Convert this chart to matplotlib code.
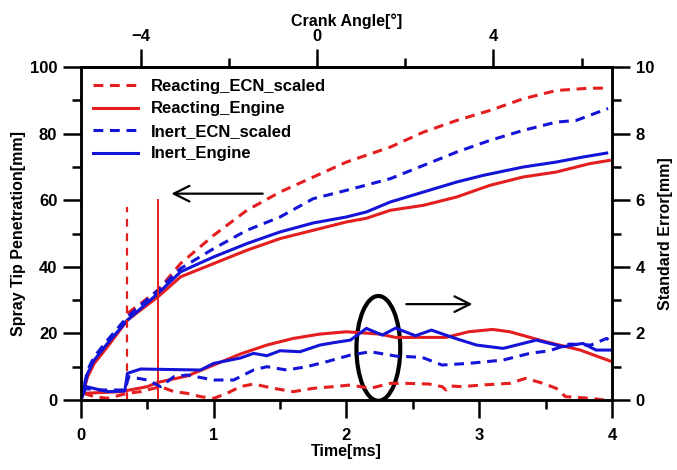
import matplotlib
matplotlib.use("Agg")
import matplotlib.pyplot as plt
from matplotlib.patches import Ellipse

plt.rcParams["font.family"] = ["Liberation Sans", "DejaVu Sans"]
plt.rcParams["font.weight"] = "bold"

RED, BLUE = "#e41e1e", "#1414d8"

# penetration curves (left axis, mm)
t_recn = [0.35, 0.45, 0.58, 0.75, 1.0, 1.25, 1.5, 1.75, 2.0, 2.33, 2.58, 2.83, 3.08, 3.33, 3.58, 3.83, 3.96]
p_recn = [26, 29, 33, 41, 49.5, 57, 62.5, 67, 71.5, 76, 80.5, 84, 87, 90.5, 93, 93.7, 93.7]
t_reng = [0, 0.05, 0.1, 0.2, 0.35, 0.58, 0.75, 1.0, 1.25, 1.5, 1.75, 2.0, 2.15, 2.33, 2.58, 2.83,
          3.08, 3.33, 3.58, 3.83, 3.98]
p_reng = [0, 7, 11, 16, 24, 31, 37, 41, 45, 48.5, 51, 53.5, 54.6, 57, 58.5, 61,
          64.5, 67, 68.5, 71, 72]
t_iecn = [0, 0.05, 0.1, 0.2, 0.35, 0.58, 0.75, 1.0, 1.25, 1.5, 1.75, 2.0, 2.33, 2.58, 2.83, 3.08,
          3.33, 3.58, 3.73, 3.83, 3.97]
p_iecn = [0, 9, 13, 18, 25, 33, 39.5, 45.5, 51, 55, 60.5, 63, 66.5, 70.5, 74.5, 78,
          81, 83.5, 84, 85.5, 87.6]
t_ieng = [0, 0.05, 0.1, 0.2, 0.35, 0.58, 0.75, 1.0, 1.25, 1.5, 1.75, 2.0, 2.15, 2.33, 2.58, 2.83,
          3.03, 3.33, 3.58, 3.78, 3.96]
p_ieng = [0, 8, 12, 17, 24, 32, 38.5, 43, 47, 50.5, 53.2, 55, 56.5, 59.5, 62.5, 65.5,
          67.5, 70, 71.5, 73, 74.2]

# standard error curves (right axis, mm)
t_recn_se = [0.02, 0.1, 0.2, 0.35, 0.45, 0.6, 0.7, 0.8, 0.9, 1.0, 1.1, 1.2, 1.3, 1.45, 1.6, 1.75, 1.9,
             2.03, 2.18, 2.33, 2.45, 2.62, 2.72, 2.75, 2.78, 2.87, 3.02, 3.23, 3.35, 3.48, 3.58, 3.65, 3.84, 3.94]
s_recn_se = [0.2, 0.1, 0.05, 0.2, 0.25, 0.4, 0.25, 0.2, 0.1, 0.05, 0.2, 0.4, 0.48, 0.35, 0.25, 0.35, 0.4,
             0.45, 0.35, 0.5, 0.5, 0.48, 0.4, 0.3, 0.42, 0.4, 0.45, 0.5, 0.65, 0.5, 0.35, 0.1, 0.05, 0.0]
t_reng_se = [0.02, 0.3, 0.5, 0.58, 0.8, 1.0, 1.2, 1.4, 1.6, 1.8, 2.0, 2.25, 2.37, 2.75, 2.92, 3.1, 3.23, 3.5, 3.76, 4.0]
s_reng_se = [0.2, 0.25, 0.4, 0.53, 0.72, 1.05, 1.38, 1.65, 1.85, 1.98, 2.05, 1.98, 1.88, 1.88, 2.05, 2.12, 2.05, 1.75, 1.5, 1.15]
t_iecn_se = [0, 0.15, 0.33, 0.36, 0.5, 0.6, 0.7, 0.8, 1.0, 1.15, 1.3, 1.4, 1.55, 1.7, 1.85, 2.03, 2.18,
             2.37, 2.57, 2.72, 2.92, 3.18, 3.38, 3.53, 3.68, 3.84, 3.96, 4.0]
s_iecn_se = [0.35, 0.3, 0.3, 0.7, 0.6, 0.4, 0.7, 0.75, 0.6, 0.6, 0.9, 1.0, 0.9, 1.0, 1.15, 1.35, 1.45,
             1.32, 1.28, 1.05, 1.1, 1.2, 1.4, 1.48, 1.68, 1.65, 1.85, 1.7]
t_ieng_se = [0, 0.04, 0.2, 0.33, 0.35, 0.45, 0.9, 1.0, 1.2, 1.3, 1.4, 1.5, 1.65, 1.8, 1.9, 2.03, 2.15,
             2.27, 2.37, 2.52, 2.64, 2.82, 2.98, 3.18, 3.43, 3.63, 3.78, 3.88, 3.99]
s_ieng_se = [0, 0.4, 0.25, 0.27, 0.8, 0.93, 0.9, 1.1, 1.26, 1.4, 1.33, 1.48, 1.45, 1.65, 1.72, 1.8, 2.15,
             1.95, 2.16, 1.93, 2.1, 1.85, 1.65, 1.55, 1.8, 1.6, 1.7, 1.5, 1.5]

# start-of-ignition markers (time ms, height mm)
soi_ecn, soi_ecn_h = 0.35, 58
soi_eng, soi_eng_h = 0.58, 60

# crank angle mapping: CA = (t - T0) / MS_PER_DEG
T0, MS_PER_DEG = 1.778, 0.3322

fig = plt.figure(figsize=(6.77, 4.70), dpi=100)
ax = fig.add_axes([0.1196, 0.149, 0.7844, 0.708])
ax2 = ax.twinx()

dash = (3.2, 2.2)
ax.plot(t_recn, p_recn, color=RED, lw=2.2, ls=(0, dash), label="Reacting_ECN_scaled")
ax.plot(t_reng, p_reng, color=RED, lw=2.2, label="Reacting_Engine")
ax.plot(t_iecn, p_iecn, color=BLUE, lw=2.2, ls=(0, dash), label="Inert_ECN_scaled")
ax.plot(t_ieng, p_ieng, color=BLUE, lw=2.2, label="Inert_Engine")
ax.plot([soi_ecn, soi_ecn], [0, soi_ecn_h], color=RED, lw=1.6, ls=(0, (3.5, 3)))
ax.plot([soi_eng, soi_eng], [0, soi_eng_h], color=RED, lw=1.4)

ax2.plot(t_recn_se, s_recn_se, color=RED, lw=2.2, ls=(0, dash))
ax2.plot(t_reng_se, s_reng_se, color=RED, lw=2.2)
ax2.plot(t_iecn_se, s_iecn_se, color=BLUE, lw=2.2, ls=(0, dash))
ax2.plot(t_ieng_se, s_ieng_se, color=BLUE, lw=2.2)

# annotations
ax.annotate("", xy=(0.66, 62), xytext=(1.39, 62),
            arrowprops=dict(arrowstyle="->", lw=1.6, color="black", mutation_scale=28))
ax2.annotate("", xy=(2.97, 2.88), xytext=(2.43, 2.88),
             arrowprops=dict(arrowstyle="->", lw=1.6, color="black", mutation_scale=28))
ax2.add_patch(Ellipse((2.24, 1.55), 0.33, 3.15, fill=False, lw=3, ec="black"))

ax.set_xlim(0, 4)
ax.set_ylim(0, 100)
ax2.set_ylim(0, 10)
ax.set_xticks([0, 1, 2, 3, 4])
ax.set_xticks([0.5, 1.5, 2.5, 3.5], minor=True)
ax.set_yticks(range(0, 101, 20))
ax.set_yticks(range(10, 100, 20), minor=True)
ax2.set_yticks(range(0, 11, 2))
ax2.set_yticks(range(1, 10, 2), minor=True)

sec = ax.secondary_xaxis("top", functions=(lambda t: (t - T0) / MS_PER_DEG,
                                           lambda c: c * MS_PER_DEG + T0))
sec.set_xticks([-4, 0, 4])
sec.set_xticks([-2, 2, 6], minor=True)
sec.set_xlabel("Crank Angle[°]", fontsize=11.5, fontweight="bold", labelpad=2)

for a in (ax, ax2):
    for s in a.spines.values():
        s.set_linewidth(1.8)
sec.spines["top"].set_linewidth(1.8)
for a in (ax, ax2, sec):
    a.tick_params(which="major", direction="out", length=13, width=1.8, labelsize=12, pad=4)
    a.tick_params(which="minor", direction="out", length=6.5, width=1.8)
ax.tick_params(axis="x", which="major", pad=7)

ax.set_xlabel("Time[ms]", fontsize=11.5, fontweight="bold", labelpad=1)
ax.set_ylabel("Spray Tip Penetration[mm]", fontsize=11.5, fontweight="bold", labelpad=3)
ax2.set_ylabel("Standard Error[mm]", fontsize=11.5, fontweight="bold", labelpad=3)

ax.legend(loc="upper left", frameon=False, fontsize=12, handlelength=2.7,
          labelspacing=0.45, borderaxespad=0.3, handletextpad=0.8)

fig.savefig("out.png", dpi=100)
